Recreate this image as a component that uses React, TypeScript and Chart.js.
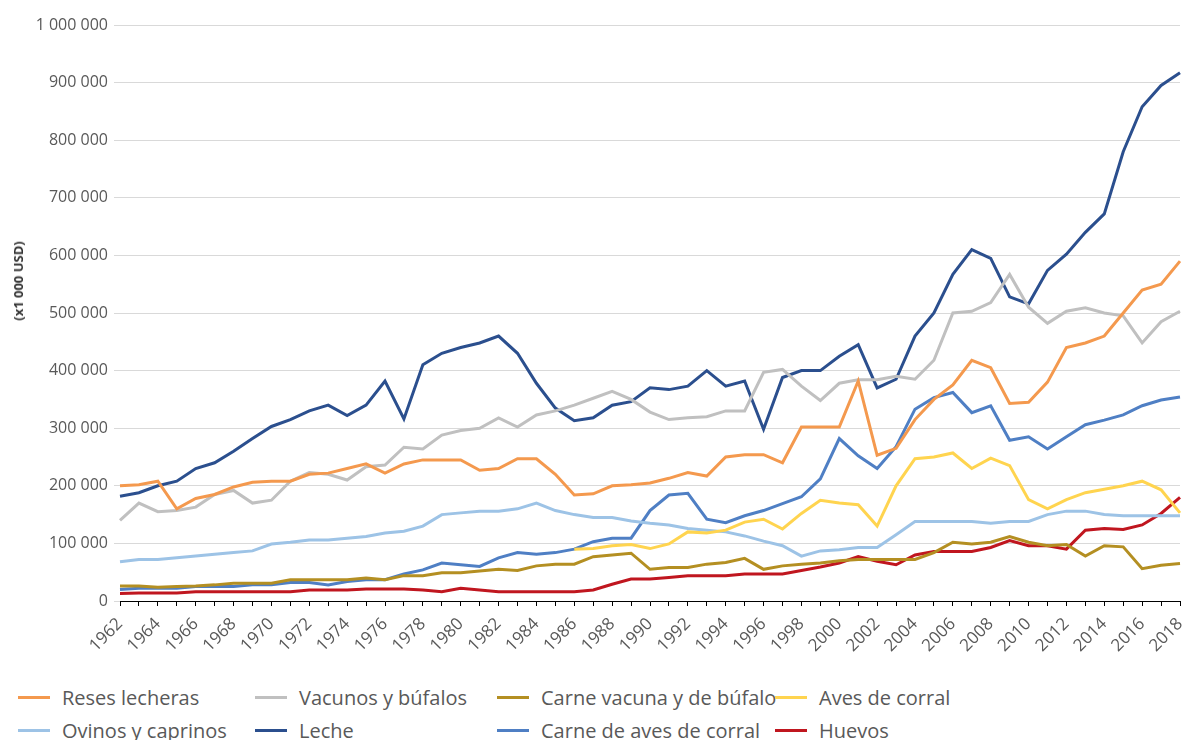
import React, { useEffect, useRef } from "react";
import { Chart, registerables } from "chart.js";

Chart.register(...registerables);

const years: string[] = [];
for (let y = 1962; y <= 2018; y++) years.push(String(y));

const resesLecheras = [200, 202, 208, 160, 178, 185, 198, 206, 208, 208, 220, 222, 230, 238, 222, 238, 245, 245, 245, 227, 230, 247, 247, 220, 184, 186, 200, 202, 205, 213, 223, 217, 250, 254, 254, 240, 302, 302, 302, 382, 253, 265, 315, 350, 375, 418, 405, 343, 345, 380, 440, 448, 460, 500, 540, 550, 590];
const vacunosBufalos = [140, 170, 155, 157, 163, 185, 192, 170, 175, 208, 223, 220, 210, 233, 236, 267, 264, 288, 296, 300, 318, 302, 323, 330, 340, 352, 364, 350, 328, 315, 318, 320, 330, 330, 397, 402, 373, 348, 378, 384, 384, 390, 385, 418, 500, 503, 518, 567, 510, 482, 503, 509, 500, 495, 448, 485, 503];
const carneVacuna = [26, 26, 24, 25, 26, 28, 31, 31, 31, 37, 37, 37, 37, 40, 37, 44, 44, 49, 49, 52, 55, 53, 61, 64, 64, 77, 80, 83, 55, 58, 58, 64, 67, 74, 55, 61, 64, 66, 70, 72, 72, 72, 72, 84, 102, 99, 102, 112, 102, 96, 98, 78, 96, 94, 56, 62, 65];
const avesCorral = [null, null, null, null, null, null, null, null, null, null, null, null, null, null, null, null, null, null, null, null, null, null, null, null, 90, 91, 96, 98, 91, 99, 120, 118, 123, 137, 142, 125, 152, 175, 170, 167, 130, 200, 247, 250, 257, 230, 248, 235, 176, 160, 176, 188, 194, 200, 208, 193, 153];
const ovinosCaprinos = [68, 72, 72, 75, 78, 81, 84, 87, 99, 102, 106, 106, 109, 112, 118, 121, 130, 150, 153, 156, 156, 160, 170, 157, 150, 145, 145, 139, 135, 132, 126, 123, 120, 113, 104, 96, 78, 87, 89, 93, 93, 115, 138, 138, 138, 138, 135, 138, 138, 150, 156, 156, 150, 148, 148, 148, 148];
const leche = [182, 188, 200, 208, 230, 240, 260, 282, 303, 315, 330, 340, 322, 340, 382, 316, 410, 430, 440, 448, 460, 430, 378, 335, 313, 318, 340, 346, 370, 367, 373, 400, 373, 382, 298, 388, 400, 400, 425, 445, 370, 385, 460, 500, 567, 610, 595, 528, 516, 574, 602, 640, 672, 780, 858, 895, 917];
const carneAves = [20, 22, 22, 22, 25, 25, 25, 28, 28, 32, 32, 28, 34, 37, 37, 47, 54, 66, 63, 60, 75, 84, 81, 84, 90, 103, 109, 109, 157, 184, 187, 142, 136, 148, 157, 169, 181, 212, 282, 252, 230, 268, 333, 353, 362, 327, 339, 279, 285, 264, 285, 306, 314, 323, 339, 349, 354];
const huevos = [13, 14, 14, 14, 16, 16, 16, 16, 16, 16, 19, 19, 19, 21, 21, 21, 19, 16, 22, 19, 16, 16, 16, 16, 16, 19, 29, 38, 38, 41, 44, 44, 44, 47, 47, 47, 53, 59, 66, 77, 69, 63, 80, 86, 86, 86, 93, 105, 96, 96, 90, 123, 126, 124, 132, 152, 180];

const seriesNames = ["Reses lecheras", "Vacunos y búfalos", "Carne vacuna y de búfalo", "Aves de corral", "Ovinos y caprinos", "Leche", "Carne de aves de corral", "Huevos"];
const seriesColors = ["#F4994E", "#C0C0C0", "#B48F22", "#FFD44F", "#9DC3E6", "#2B4F8E", "#4F7FC4", "#C0161F"];
const seriesData = [resesLecheras, vacunosBufalos, carneVacuna, avesCorral, ovinosCaprinos, leche, carneAves, huevos];

const yTickMax = 1000000;
const yTickStep = 100000;
const yTitle = "(x1 000 USD)";

const fmt = (v: number) => String(v).replace(/\B(?=(\d{3})+(?!\d))/g, " ");

const FONT = "'Open Sans', 'Noto Sans', sans-serif";

export default function App() {
  const ref = useRef<HTMLCanvasElement | null>(null);

  useEffect(() => {
    document.body.style.margin = "0";
    const canvas = ref.current;
    if (!canvas) return;
    const chart = new Chart(canvas, {
      type: "line",
      data: {
        labels: years,
        datasets: seriesNames.map((name, i) => ({
          label: name,
          data: (seriesData[i] as (number | null)[]).map((v) => (v == null ? null : v * 1000)),
          borderColor: seriesColors[i],
          backgroundColor: seriesColors[i],
          borderWidth: 3,
          pointRadius: 0,
          tension: 0,
          fill: false,
        })),
      },
      options: {
        animation: false,
        responsive: false,
        maintainAspectRatio: false,
        layout: { padding: { top: 25, right: 5, left: 0, bottom: 0 } },
        plugins: {
          legend: { display: false },
          tooltip: { enabled: false },
        },
        scales: {
          x: {
            offset: false,
            grid: {
              drawOnChartArea: false,
              drawTicks: true,
              tickLength: 5,
              tickColor: "#000000",
              tickWidth: 1,
            },
            border: { display: true, color: "#000000", width: 1 },
            ticks: {
              autoSkip: false,
              maxRotation: 45,
              minRotation: 45,
              color: "#595959",
              padding: 8,
              font: { family: FONT, size: 17 },
              callback: (_v: any, idx: number) => (idx % 2 === 0 ? years[idx] : ""),
            },
            afterFit: (s: any) => {
              s.height = 64;
              s.paddingRight = 0;
              s.paddingLeft = 0;
            },
          },
          y: {
            min: 0,
            max: yTickMax,
            grid: {
              color: "#D9D9D9",
              lineWidth: 1,
              drawTicks: true,
              tickLength: 6,
              tickColor: "#D9D9D9",
            },
            border: { display: false },
            ticks: {
              stepSize: yTickStep,
              color: "#595959",
              padding: 6,
              font: { family: FONT, size: 16 },
              callback: (v: any) => fmt(Number(v)),
            },
            afterFit: (s: any) => {
              s.width = 120;
            },
          },
        },
      },
    });
    return () => chart.destroy();
  }, []);

  const legendCols = [18, 255, 497, 775];
  const legendRows = [697, 730];

  return (
    <div style={{ position: "relative", width: 1185, height: 740, overflow: "hidden", background: "#fff" }}>
      <canvas ref={ref} width={1185} height={665} style={{ position: "absolute", left: 0, top: 0, width: 1185, height: 665 }} />
      <div
        style={{
          position: "absolute",
          left: 18,
          top: 281,
          transform: "translate(-50%, -50%) rotate(-90deg)",
          fontFamily: FONT,
          fontWeight: 700,
          fontSize: 13,
          color: "#333",
          whiteSpace: "nowrap",
        }}
      >
        {yTitle}
      </div>
      {seriesNames.map((name, i) => {
        const col = i % 4;
        const row = Math.floor(i / 4);
        return (
          <div
            key={name}
            style={{
              position: "absolute",
              left: legendCols[col],
              top: legendRows[row] - 14,
              height: 28,
              display: "flex",
              alignItems: "center",
              fontFamily: FONT,
              fontSize: 20,
              color: "#595959",
              whiteSpace: "nowrap",
            }}
          >
            <span style={{ display: "inline-block", width: 32, height: 3, background: seriesColors[i], marginRight: 12 }} />
            <span>{name}</span>
          </div>
        );
      })}
    </div>
  );
}
